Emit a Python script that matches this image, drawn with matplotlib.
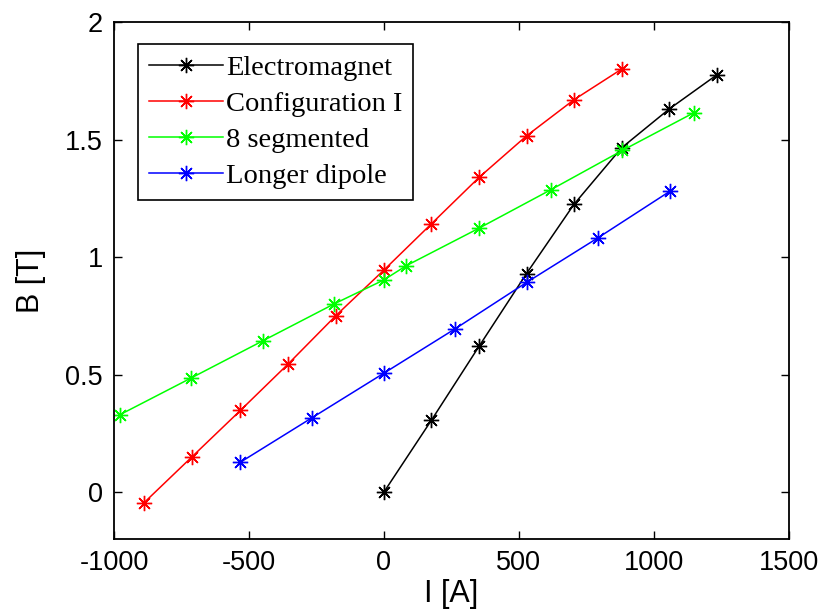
import matplotlib.pyplot as plt
from matplotlib.ticker import FuncFormatter

# data
em_i = [0, 176, 352, 528, 704, 880, 1056, 1232]
em_b = [0, 0.306, 0.62, 0.93, 1.225, 1.465, 1.63, 1.775]

conf_i = [-888, -710, -532, -354, -178, 0, 176, 352, 528, 704, 880]
conf_b = [-0.045, 0.151, 0.347, 0.546, 0.751, 0.945, 1.142, 1.339, 1.516, 1.67, 1.80]

seg_i = [-978, -713, -448, -184, 0, 82, 352, 617, 883, 1147]
seg_b = [0.329, 0.486, 0.644, 0.801, 0.903, 0.963, 1.123, 1.286, 1.454, 1.614]

dip_i = [-533, -268, 0, 264, 528, 794, 1060]
dip_b = [0.126, 0.315, 0.506, 0.695, 0.892, 1.083, 1.281]

series = [
    ("Electromagnet", em_i, em_b, "black"),
    ("Configuration I", conf_i, conf_b, "#ff0000"),
    ("8 segmented", seg_i, seg_b, "#00ff00"),
    ("Longer dipole", dip_i, dip_b, "#0000ff"),
]

plt.rcParams['font.family'] = ['Liberation Sans', 'DejaVu Sans']
plt.rcParams['axes.unicode_minus'] = False

fig = plt.figure(figsize=(8.27, 6.16), dpi=100)
ax = fig.add_axes([0.1378, 0.125, 0.8162, 0.839])

for name, x, y, col in series:
    ax.plot(x, y, color=col, lw=1.1, marker=(8, 2, 0), markersize=11,
            markeredgewidth=1.0, label=name)

ax.set_xlim(-1000, 1500)
ax.set_ylim(-0.2, 2)
ax.set_xticks([-1000, -500, 0, 500, 1000, 1500])
ax.set_yticks([0, 0.5, 1, 1.5, 2])
ax.yaxis.set_major_formatter(FuncFormatter(lambda v, p: f"{v:g}"))
ax.tick_params(direction='in', top=True, right=True, length=6, width=1,
               labelsize=19.5, pad=8)
for s in ax.spines.values():
    s.set_linewidth(1.3)

ax.set_xlabel("I [A]", fontsize=22, labelpad=2)
ax.set_ylabel("B [T]", fontsize=22, labelpad=14)

leg = ax.legend(loc='upper left', bbox_to_anchor=(0.036, 0.957),
                borderaxespad=0, fancybox=False, edgecolor='black',
                framealpha=1, handlelength=2.6, handletextpad=0.1,
                labelspacing=0.35, borderpad=0.38,
                prop={'family': 'Liberation Serif', 'size': 20.5})
leg.get_frame().set_linewidth(1.2)

fig.savefig("out.png", dpi=100)
